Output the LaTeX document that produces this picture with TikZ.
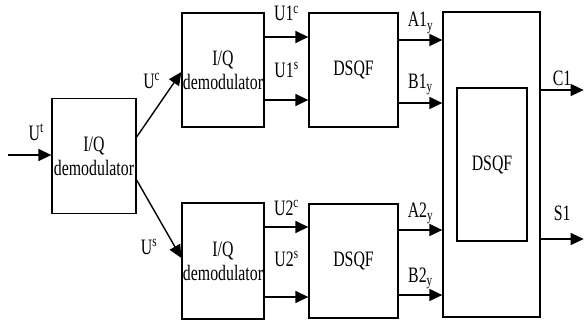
\documentclass[tikz,border=0pt]{standalone}
\usepackage{fontspec}
\setmainfont{Liberation Serif}[FakeStretch=0.72]
\usetikzlibrary{positioning}
\usetikzlibrary{arrows.meta}
\tikzstyle{every block} = []
\tikzstyle{block} = [draw, line width=1.3pt, align=center, inner sep=0pt, every block]
\tikzstyle{link} = [>={Triangle[length=13pt, width=12pt]}, ->, draw, line width=1.4pt]
\tikzstyle{lbl} = [inner sep=0pt, anchor=base]

\begin{document}
\begin{tikzpicture}[x=1pt, y=-1pt, font=\fontsize{22}{24}\selectfont]
  \useasboundingbox (0,0) rectangle (585,321);
  % first demodulator
  \node[block, minimum width=84pt, minimum height=115pt] (demod) at (94,156) {I/Q\\demodulator};
  \coordinate (in) at (8,155);
  \draw[link] (in) -- (demod.west |- in) node[lbl, pos=0.65, yshift=15] (ut) {U\textsuperscript{t}};

  % second stage
  \node[block, minimum width=82pt, minimum height=114pt] (demodA) at (223,70) {I/Q\\demodulator};
  \node[block, minimum width=82pt, minimum height=116pt] (demodB) at (223,261) {I/Q\\demodulator};
  \draw[link] ([yshift=19]demod.east) -- ([yshift=-2]demodA.west)
      node[lbl, pos=0.72, anchor=base east, xshift=-8, yshift=2] (uc) {U\textsuperscript{c}};
  \draw[link] ([yshift=-24]demod.east) -- ([yshift=3]demodB.west)
      node[lbl, pos=0.9, anchor=base east, xshift=-19, yshift=-4] (us) {U\textsuperscript{s}};

  % filters
  \node[block, minimum width=89pt, minimum height=114pt] (dsqfA) at (353.5,70) {DSQF};
  \node[block, minimum width=89pt, minimum height=114pt] (dsqfB) at (353.5,261) {DSQF};
  \node[block, minimum width=97pt, minimum height=305pt] (big) at (491.5,164.5) {};
  \node[block, minimum width=70pt, minimum height=153pt] (dsqfC) at (492,164.5) {DSQF};

  \draw[link] ([yshift=33]demodA.east) coordinate (u1c) -- (u1c -| dsqfA.west)
      node[lbl, midway, yshift=16] (lu1c) {U1\textsuperscript{c}};
  \draw[link] ([yshift=-30]demodA.east) coordinate (u1s) -- (u1s -| dsqfA.west)
      node[lbl, midway, yshift=23] (lu1s) {U1\textsuperscript{s}};
  \draw[link] ([yshift=34]demodB.east) coordinate (u2c) -- (u2c -| dsqfB.west)
      node[lbl, midway, yshift=12] (lu2c) {U2\textsuperscript{c}};
  \draw[link] ([yshift=-36]demodB.east) coordinate (u2s) -- (u2s -| dsqfB.west)
      node[lbl, midway, yshift=31] (lu2s) {U2\textsuperscript{s}};

  \draw[link] ([yshift=30]dsqfA.east) coordinate (a1) -- (a1 -| big.west)
      node[lbl, midway, yshift=13] (la1) {A1\textsubscript{y}};
  \draw[link] ([yshift=-33]dsqfA.east) coordinate (b1) -- (b1 -| big.west)
      node[lbl, midway, yshift=15] (lb1) {B1\textsubscript{y}};
  \draw[link] ([yshift=31]dsqfB.east) coordinate (a2) -- (a2 -| big.west)
      node[lbl, midway, yshift=13] (la2) {A2\textsubscript{y}};
  \draw[link] ([yshift=-34]dsqfB.east) coordinate (b2) -- (b2 -| big.west)
      node[lbl, midway, yshift=13] (lb2) {B2\textsubscript{y}};

  % outputs
  \draw[link] ([yshift=74.5]big.east) -- ++(43,0) node[lbl, midway, yshift=5] (c1) {C1};
  \draw[link] ([yshift=-74.5]big.east) -- ++(43,0) node[lbl, midway, yshift=19] (s1) {S1};
\end{tikzpicture}
\end{document}
